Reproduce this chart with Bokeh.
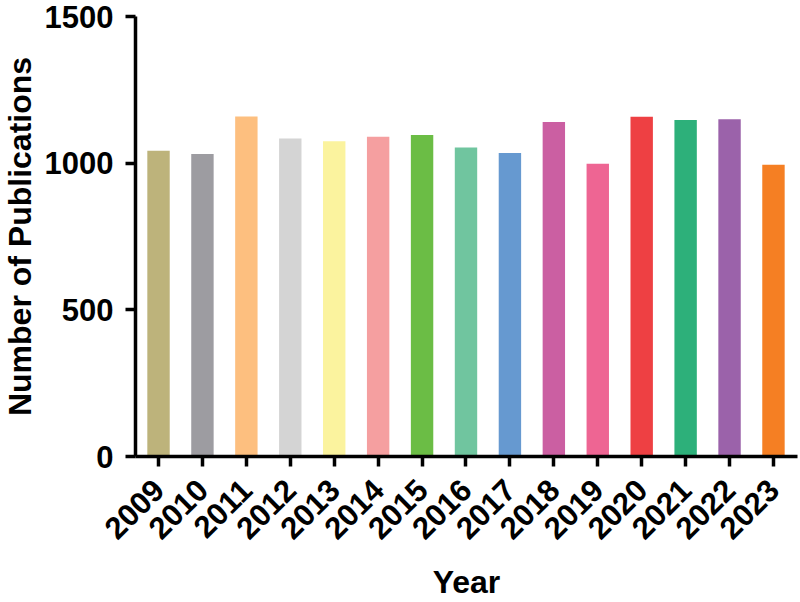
from bokeh.plotting import figure
from bokeh.models import Range1d, FixedTicker, ColumnDataSource
from bokeh.embed import file_html
from bokeh.resources import INLINE
import math

years = ["2009", "2010", "2011", "2012", "2013", "2014", "2015", "2016",
         "2017", "2018", "2019", "2020", "2021", "2022", "2023"]
publications = [1042, 1031, 1159, 1084, 1075, 1090, 1096, 1053,
                1035, 1140, 998, 1158, 1147, 1150, 995]
colors = ["#bdb37b", "#9d9ca1", "#fdbf7f", "#d4d4d4", "#fbf39e", "#f59fa0",
          "#6bbd45", "#70c59f", "#6699d0", "#cb5fa2", "#ee6593", "#ee4043",
          "#2db07a", "#9b62aa", "#f57f23"]
y_ticks = [0, 500, 1000, 1500]
x_title = "Year"
y_title = "Number of Publications"

idx = list(range(len(years)))
src = ColumnDataSource(dict(x=idx, top=publications, color=colors, year=years))

shift = 6
p = figure(width=800 + shift, height=602, output_backend="svg", toolbar_location=None,
           x_range=Range1d(-0.524, 14.547), y_range=Range1d(0, 1500),
           min_border_left=135 + shift, min_border_right=3, min_border_top=16,
           min_border_bottom=146)
p.styles = {"margin-left": f"-{shift}px"}
p.vbar(x="x", top="top", width=0.51, bottom=0, color="color", line_color=None, source=src)

p.grid.visible = False
p.outline_line_color = None
p.background_fill_color = "white"

font = "Liberation Sans"
for ax in (p.xaxis[0], p.yaxis[0]):
    ax.axis_line_width = 3.5
    ax.axis_line_color = "black"
    ax.major_tick_line_width = 3.5
    ax.major_tick_line_color = "black"
    ax.major_tick_out = 10
    ax.major_tick_in = 0
    ax.minor_tick_line_color = None
    ax.major_label_text_font = font
    ax.major_label_text_font_style = "bold"
    ax.major_label_text_font_size = "31px"
    ax.major_label_text_color = "black"
    ax.axis_label_text_font = font
    ax.axis_label_text_font_style = "bold"
    ax.axis_label_text_font_size = "32px"
    ax.axis_label_text_color = "black"

p.xaxis.ticker = FixedTicker(ticks=idx)
p.xaxis.major_label_overrides = {i: y for i, y in zip(idx, years)}
p.xaxis.major_label_orientation = math.pi / 4
p.xaxis.major_label_standoff = 18
p.xaxis.axis_label = x_title
p.xaxis.axis_label_standoff = 12

p.yaxis.ticker = FixedTicker(ticks=y_ticks)
p.yaxis.major_label_standoff = 12
p.yaxis.axis_label = y_title
p.yaxis.axis_label_standoff = 4

open("out.html", "w").write(file_html(p, INLINE))
